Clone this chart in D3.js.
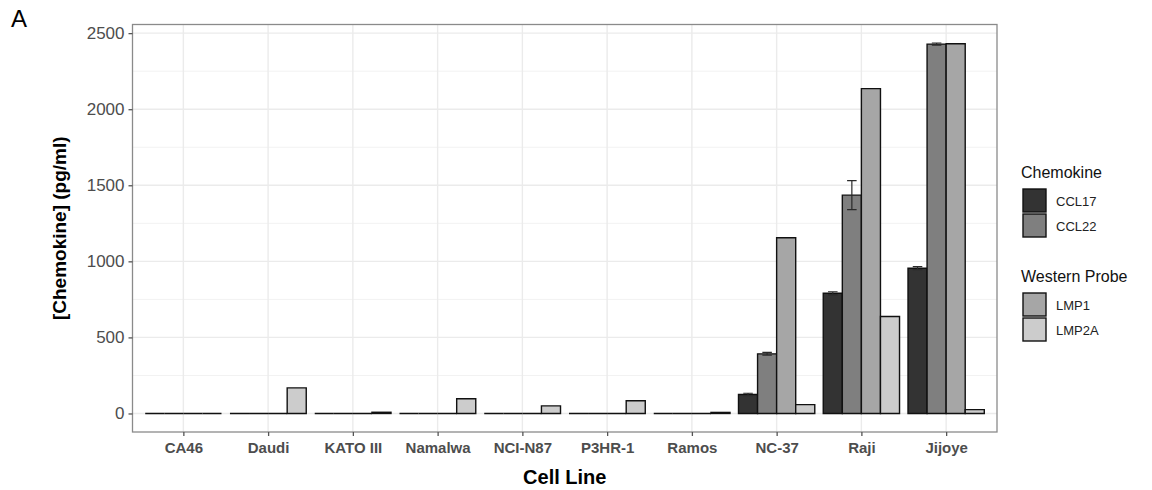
<!DOCTYPE html>
<html>
<head>
<meta charset="utf-8">
<script src="https://cdn.jsdelivr.net/npm/d3@7"></script>
<style>
  html, body { margin: 0; padding: 0; background: #fff; }
  svg { display: block; font-family: 'Liberation Sans', Arial, Helvetica, sans-serif; }
</style>
</head>
<body>
<svg id="chart" width="1152" height="490"></svg>
<script>
// data (pg/ml)
const cellLines = ['CA46', 'Daudi', 'KATO III', 'Namalwa', 'NCI-N87', 'P3HR-1', 'Ramos', 'NC-37', 'Raji', 'Jijoye'];
const ccl17 = [0, 0, 0, 0, 0, 0, 0, 125, 790, 955];
const ccl17Err = [0, 0, 0, 0, 0, 0, 0, 8, 10, 10];
const ccl22 = [0, 0, 0, 0, 0, 0, 0, 392, 1435, 2428];
const ccl22Err = [0, 0, 0, 0, 0, 0, 0, 9, 95, 7];
const lmp1 = [0, 0, 0, 0, 0, 0, 0, 1155, 2135, 2430];
const lmp2a = [0, 168, 8, 97, 50, 84, 7, 58, 637, 25];
const yTicks = [0, 500, 1000, 1500, 2000, 2500];
const yMinor = [250, 750, 1250, 1750, 2250];

const seriesNames = ['CCL17', 'CCL22', 'LMP1', 'LMP2A'];
const fills = { CCL17: '#333333', CCL22: '#7f7f7f', LMP1: '#a6a6a6', LMP2A: '#cccccc' };

const rows = [];
cellLines.forEach((c, i) => {
  rows.push({ cell: c, key: 'CCL17', value: ccl17[i], err: ccl17Err[i] });
  rows.push({ cell: c, key: 'CCL22', value: ccl22[i], err: ccl22Err[i] });
  rows.push({ cell: c, key: 'LMP1', value: lmp1[i], err: null });
  rows.push({ cell: c, key: 'LMP2A', value: lmp2a[i], err: null });
});

const svg = d3.select('#chart');
const panel = { left: 132.5, right: 997, top: 24.5, bottom: 432 };

// ggplot style 5% expansion
const yMax = d3.max(rows, d => d.value + (d.err || 0));
const pad = yMax * 0.05;
const y = d3.scaleLinear().domain([-pad, yMax + pad]).range([panel.bottom, panel.top]);
const x = d3.scalePoint().domain(cellLines).range([panel.left, panel.right]).padding(0.6);
const step = x.step();
const inner = d3.scaleBand().domain(seriesNames).range([-0.45 * step, 0.45 * step]).padding(0);

// grid
const grid = svg.append('g');
grid.selectAll('.minor').data(yMinor).enter().append('line')
  .attr('x1', panel.left).attr('x2', panel.right)
  .attr('y1', d => y(d)).attr('y2', d => y(d))
  .attr('stroke', '#f2f2f2').attr('stroke-width', 1);
grid.selectAll('.major').data(yTicks).enter().append('line')
  .attr('x1', panel.left).attr('x2', panel.right)
  .attr('y1', d => y(d)).attr('y2', d => y(d))
  .attr('stroke', '#ebebeb').attr('stroke-width', 1.4);
grid.selectAll('.vmajor').data(cellLines).enter().append('line')
  .attr('x1', d => x(d)).attr('x2', d => x(d))
  .attr('y1', panel.top).attr('y2', panel.bottom)
  .attr('stroke', '#ebebeb').attr('stroke-width', 1.4);

// bars as paths so that zero bars still show their outline
const bars = svg.append('g');
bars.selectAll('path').data(rows).enter().append('path')
  .attr('d', d => {
    const x0 = x(d.cell) + inner(d.key);
    const x1 = x0 + inner.bandwidth();
    const y0 = y(0);
    const y1 = y(d.value);
    return `M ${x0} ${y0} V ${y1} H ${x1} V ${y0} Z`;
  })
  .attr('fill', d => fills[d.key])
  .attr('stroke', '#111')
  .attr('stroke-width', 1.4);

// error bars
const errRows = rows.filter(d => d.err);
const eb = svg.append('g').attr('stroke', '#2a2a2a').attr('stroke-width', 1.2).attr('fill', 'none');
eb.selectAll('path').data(errRows).enter().append('path')
  .attr('d', d => {
    const cx = x(d.cell) + inner(d.key) + inner.bandwidth() / 2;
    const w = inner.bandwidth() * 0.25;
    const lo = y(d.value - d.err);
    const hi = y(d.value + d.err);
    return `M ${cx - w} ${hi} H ${cx + w} M ${cx} ${hi} V ${lo} M ${cx - w} ${lo} H ${cx + w}`;
  });

// panel border
svg.append('rect')
  .attr('x', panel.left).attr('y', panel.top)
  .attr('width', panel.right - panel.left).attr('height', panel.bottom - panel.top)
  .attr('fill', 'none').attr('stroke', '#8a8a8a').attr('stroke-width', 1.3);

// axes
const yAxis = svg.append('g')
  .attr('transform', `translate(${panel.left},0)`)
  .call(d3.axisLeft(y).tickValues(yTicks).tickSize(4).tickPadding(4).tickFormat(d3.format('d')));
yAxis.select('.domain').remove();
yAxis.selectAll('.tick line').attr('stroke', '#555').attr('stroke-width', 1.3);
yAxis.selectAll('.tick text').attr('fill', '#4d4d4d').style('font-size', '17px')
  .style('font-family', "'Liberation Sans', Arial, sans-serif");

const xAxis = svg.append('g')
  .attr('transform', `translate(0,${panel.bottom})`)
  .call(d3.axisBottom(x).tickSize(4).tickPadding(6));
xAxis.select('.domain').remove();
xAxis.selectAll('.tick line').attr('stroke', '#555').attr('stroke-width', 1.3);
xAxis.selectAll('.tick text').attr('fill', '#4d4d4d').style('font-size', '15px').style('font-weight', 'bold')
  .style('font-family', "'Liberation Sans', Arial, sans-serif");

// titles
svg.append('text')
  .attr('x', (panel.left + panel.right) / 2).attr('y', 484)
  .attr('text-anchor', 'middle').style('font-size', '20px').style('font-weight', 'bold')
  .text('Cell Line');
svg.append('text')
  .attr('transform', `translate(66,${(panel.top + panel.bottom) / 2}) rotate(-90)`)
  .attr('text-anchor', 'middle').style('font-size', '19px').style('font-weight', 'bold')
  .text('[Chemokine] (pg/ml)');
svg.append('text')
  .attr('x', 11).attr('y', 27)
  .style('font-size', '24px')
  .text('A');

// legend
const legendGroups = [
  { title: 'Chemokine', keys: ['CCL17', 'CCL22'], top: 178 },
  { title: 'Western Probe', keys: ['LMP1', 'LMP2A'], top: 282 }
];
const lg = svg.append('g');
legendGroups.forEach(g => {
  lg.append('text').attr('x', 1021).attr('y', g.top)
    .style('font-size', '16px').attr('fill', '#111').text(g.title);
  g.keys.forEach((k, i) => {
    const ky = g.top + 11 + i * 25;
    lg.append('rect').attr('x', 1023).attr('y', ky).attr('width', 23).attr('height', 23)
      .attr('fill', fills[k]).attr('stroke', '#111').attr('stroke-width', 1.4);
    lg.append('text').attr('x', 1056).attr('y', ky + 16.5)
      .style('font-size', '13px').attr('fill', '#222').text(k);
  });
});
</script>
</body>
</html>
